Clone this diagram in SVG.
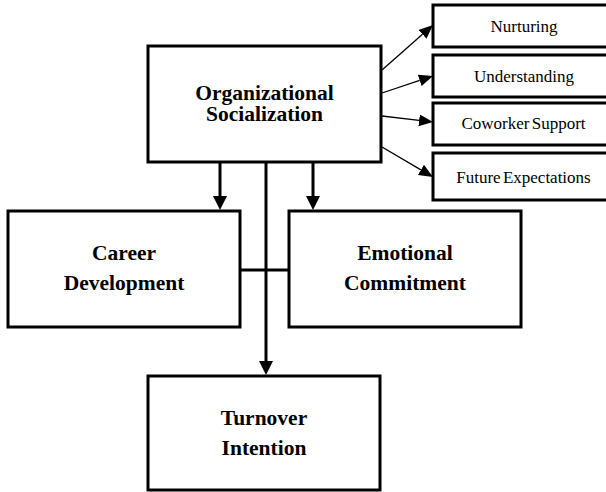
<svg xmlns="http://www.w3.org/2000/svg" width="606" height="492" viewBox="0 0 606 492">
<style>
.box{fill:#fff;stroke:#000;stroke-width:3}
.big{font-family:"Liberation Serif","Times New Roman",serif;font-weight:bold;font-size:21.5px;text-anchor:middle;fill:#000}
.small{font-family:"Liberation Serif","Times New Roman",serif;font-size:17px;text-anchor:middle;fill:#000;word-spacing:-2px}
.thick{stroke:#000;stroke-width:3;fill:none}
.thin{stroke:#000;stroke-width:1.3;fill:none}
</style>
<defs>
<marker id="ahDown" markerUnits="userSpaceOnUse" markerWidth="15" markerHeight="15" refX="0" refY="7" orient="auto"><path d="M0,0 L14,7 L0,14 z" fill="#000"/></marker>
<marker id="ahThin" markerUnits="userSpaceOnUse" markerWidth="15" markerHeight="13" refX="0" refY="6" orient="auto"><path d="M0,0 L14,6 L0,12 z" fill="#000"/></marker>
</defs>
<rect width="606" height="492" fill="#fff"/>
<g id="connectors">
<line class="thin" x1="382" y1="70" x2="422.5" y2="34.3" marker-end="url(#ahThin)"/>
<line class="thin" x1="382" y1="93" x2="419.7" y2="80.4" marker-end="url(#ahThin)"/>
<line class="thin" x1="382" y1="116" x2="419.1" y2="120.4" marker-end="url(#ahThin)"/>
<line class="thin" x1="382" y1="147" x2="420.9" y2="169.9" marker-end="url(#ahThin)"/>
<line class="thick" x1="220" y1="163" x2="220" y2="196" marker-end="url(#ahDown)"/>
<line class="thick" x1="313" y1="163" x2="313" y2="196" marker-end="url(#ahDown)"/>
<line class="thick" x1="266" y1="163" x2="266" y2="361" marker-end="url(#ahDown)"/>
<line class="thick" x1="240" y1="270" x2="289" y2="270"/>
</g>
<g id="org">
<rect class="box" x="148" y="46" width="233" height="116"/>
<text class="big" x="264.5" y="100">Organizational</text>
<text class="big" x="264.5" y="121">Socialization</text>
</g>
<g id="nurturing">
<rect class="box" x="433" y="5" width="185" height="42"/>
<text class="small" x="524" y="32">Nurturing</text>
</g>
<g id="understanding">
<rect class="box" x="433" y="55" width="185" height="42"/>
<text class="small" x="524" y="82">Understanding</text>
</g>
<g id="coworker">
<rect class="box" x="433" y="103" width="185" height="42"/>
<text class="small" x="523.5" y="129">Coworker Support</text>
</g>
<g id="future">
<rect class="box" x="433" y="153" width="185" height="47"/>
<text class="small" x="523.5" y="183">Future Expectations</text>
</g>
<g id="career">
<rect class="box" x="8" y="211" width="232" height="116"/>
<text class="big" x="124" y="260">Career</text>
<text class="big" x="124" y="290">Development</text>
</g>
<g id="emotional">
<rect class="box" x="289" y="211" width="232" height="116"/>
<text class="big" x="405" y="260">Emotional</text>
<text class="big" x="405" y="290">Commitment</text>
</g>
<g id="turnover">
<rect class="box" x="148" y="376" width="232" height="114"/>
<text class="big" x="264" y="425">Turnover</text>
<text class="big" x="264" y="455">Intention</text>
</g>
</svg>
